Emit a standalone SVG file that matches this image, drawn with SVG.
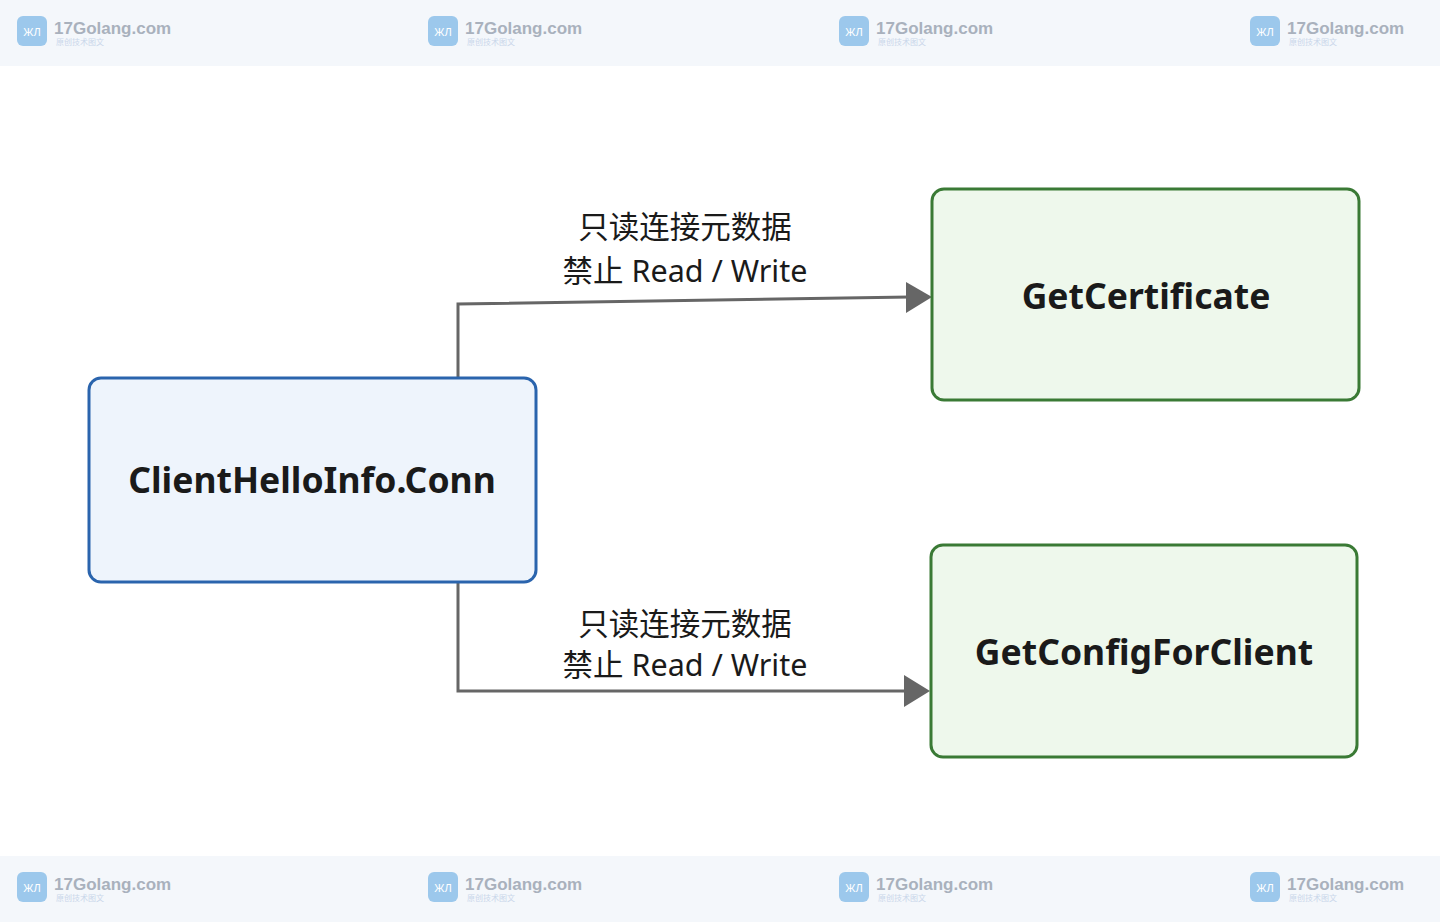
<svg xmlns="http://www.w3.org/2000/svg" width="1440" height="922" viewBox="0 0 1440 922">
<defs>
<style>
.wm{font-family:"Liberation Sans",Arial,sans-serif;font-weight:bold;font-size:17px;fill:#a9b1bd}
.wms{font-family:"Noto Sans CJK SC",sans-serif;font-size:8px;fill:#c9d6ea}
.lbl{font-family:"Noto Sans","Noto Sans CJK SC",sans-serif;font-size:30.5px;fill:#1a1a1a;text-anchor:middle}
.node{font-family:"Noto Sans",sans-serif;font-weight:bold;font-size:35.5px;fill:#1a1a1a;text-anchor:middle}
.conn{fill:none;stroke:#666;stroke-width:3}
</style>
<g id="logo">
<rect x="0" y="0" width="30" height="30" rx="6" fill="#9cc8ec"/>
<text x="15" y="20" font-family="Liberation Sans,sans-serif" font-size="11" fill="#fff" text-anchor="middle">ЖЛ</text>
<text x="37" y="18" class="wm">17Golang.com</text>
<text x="39" y="29" class="wms">原创技术图文</text>
</g>
</defs>
<rect width="1440" height="922" fill="#fff"/>
<rect width="1440" height="66" fill="#f4f7fb"/>
<rect y="856" width="1440" height="66" fill="#f4f7fb"/>
<g id="watermarks">
<use href="#logo" x="17" y="16"/><use href="#logo" x="428" y="16"/><use href="#logo" x="839" y="16"/><use href="#logo" x="1250" y="16"/>
<use href="#logo" x="17" y="872"/><use href="#logo" x="428" y="872"/><use href="#logo" x="839" y="872"/><use href="#logo" x="1250" y="872"/>
</g>
<g id="connectors">
<path class="conn" d="M458,377 L458,304 L910,297"/>
<path d="M906,282 L932,297 L906,313 Z" fill="#666"/>
<path class="conn" d="M458,583 L458,691 L910,691"/>
<path d="M904,675 L930,691 L904,707 Z" fill="#666"/>
<text class="lbl" x="685" y="238">只读连接元数据</text>
<text class="lbl" x="685" y="282">禁止 Read / Write</text>
<text class="lbl" x="685" y="635">只读连接元数据</text>
<text class="lbl" x="685" y="676">禁止 Read / Write</text>
</g>
<g id="client">
<rect x="89" y="378" width="447" height="204" rx="12" fill="#eef4fc" stroke="#2a64ad" stroke-width="3"/>
<text class="node" x="312" y="493">ClientHelloInfo.Conn</text>
</g>
<g id="getcert">
<rect x="932" y="189" width="427" height="211" rx="12" fill="#eef8ec" stroke="#3a7a35" stroke-width="3"/>
<text class="node" x="1146" y="309">GetCertificate</text>
</g>
<g id="getconfig">
<rect x="931" y="545" width="426" height="212" rx="12" fill="#eef8ec" stroke="#3a7a35" stroke-width="3"/>
<text class="node" x="1144" y="665">GetConfigForClient</text>
</g>
</svg>
